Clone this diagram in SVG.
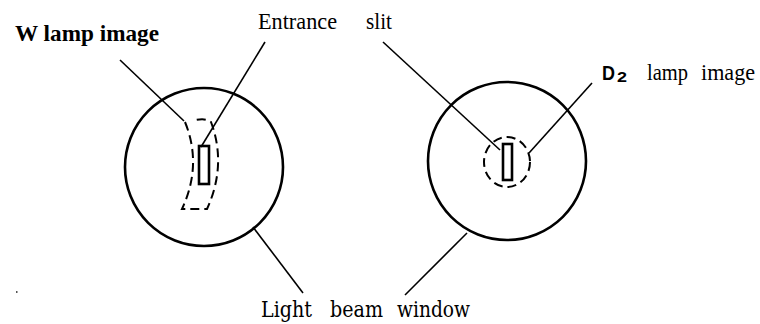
<svg xmlns="http://www.w3.org/2000/svg" width="760" height="324" viewBox="0 0 760 324">
<style>
.win{fill:none;stroke:#000;stroke-width:2.6}
.slit{fill:none;stroke:#000;stroke-width:2.6}
.img{fill:none;stroke:#000;stroke-width:2;stroke-dasharray:9 5}
.lead{fill:none;stroke:#000;stroke-width:1.6}
.t{font-family:"Liberation Serif","Times New Roman",serif;font-size:24px;fill:#000}
.tb{font-family:"Liberation Serif","Times New Roman",serif;font-size:23px;font-weight:bold;fill:#000}
.ts{font-family:"Liberation Sans",Arial,sans-serif;font-weight:bold;fill:#000}
.tw{font-family:"DejaVu Serif",serif;font-size:22px;fill:#000}
</style>
<rect width="760" height="324" fill="#fff"/>
<g id="left-window">
<circle class="win" cx="204" cy="167" r="79"/>
<path class="img" d="M185,122 Q202.5,165 182,209 L207,209 Q227,165 211,122 Q206,118 196,120"/>
<rect class="slit" x="199" y="146" width="10" height="38"/>
</g>
<g id="right-window">
<circle class="win" cx="507" cy="161" r="79"/>
<ellipse class="img" cx="507" cy="162" rx="23" ry="25"/>
<rect class="slit" x="503" y="144" width="9" height="36"/>
</g>
<g id="connectors">
<line class="lead" x1="120" y1="60" x2="184" y2="121"/>
<line class="lead" x1="265" y1="42" x2="201" y2="147"/>
<line class="lead" x1="383" y1="42" x2="500" y2="150"/>
<line class="lead" x1="592" y1="83" x2="529" y2="153"/>
<line class="lead" x1="253" y1="227" x2="303" y2="293"/>
<line class="lead" x1="467" y1="233" x2="405" y2="295"/>
</g>
<g id="labels">
<text class="tb" x="15" y="41" textLength="144" lengthAdjust="spacingAndGlyphs">W lamp image</text>
<text class="t" x="258" y="29" textLength="79" lengthAdjust="spacingAndGlyphs">Entrance</text>
<text class="t" x="366" y="29" textLength="26" lengthAdjust="spacingAndGlyphs">slit</text>
<text class="ts" x="602" y="80" font-size="21" textLength="13" lengthAdjust="spacingAndGlyphs">D</text>
<text class="ts" x="617" y="82" font-size="14" textLength="10" lengthAdjust="spacingAndGlyphs">2</text>
<text class="t" x="647" y="80" textLength="41" lengthAdjust="spacingAndGlyphs">lamp</text>
<text class="t" x="701" y="80" textLength="54" lengthAdjust="spacingAndGlyphs">image</text>
<text class="tw" x="261" y="317" textLength="51" lengthAdjust="spacingAndGlyphs">Light</text>
<text class="tw" x="330" y="317" textLength="53" lengthAdjust="spacingAndGlyphs">beam</text>
<text class="tw" x="397" y="317" textLength="73" lengthAdjust="spacingAndGlyphs">window</text>
</g>
<rect x="16" y="291" width="1.5" height="2" fill="#555"/>
</svg>
